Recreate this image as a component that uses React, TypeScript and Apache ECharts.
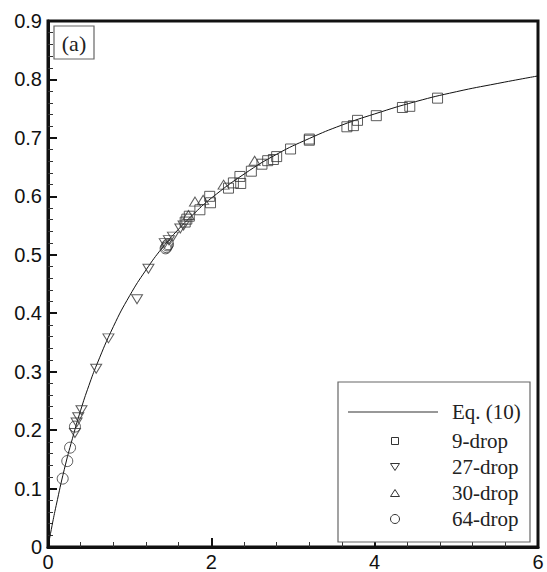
import React, { useEffect, useRef } from "react";
import * as echarts from "echarts";

// Eq. (10) curve
const curveX = [0, 0.05, 0.1, 0.2, 0.3, 0.4, 0.5, 0.6, 0.8, 1.0, 1.2, 1.4, 1.6, 1.8, 2.0, 2.4, 2.8, 3.2, 3.6, 4.0, 4.5, 5.0, 5.5, 6.0];
const curveY = [0, 0.037, 0.071, 0.133, 0.186, 0.234, 0.276, 0.313, 0.377, 0.43, 0.474, 0.512, 0.544, 0.572, 0.597, 0.638, 0.672, 0.699, 0.722, 0.741, 0.762, 0.779, 0.793, 0.806];

const drop9: [number, number][] = [
  [1.68, 0.556], [1.7, 0.561], [1.73, 0.566], [1.86, 0.577], [1.98, 0.6], [1.99, 0.589],
  [2.21, 0.614], [2.27, 0.623], [2.35, 0.634], [2.36, 0.622], [2.49, 0.643], [2.62, 0.655],
  [2.69, 0.661], [2.76, 0.663], [2.8, 0.668], [2.97, 0.681], [3.2, 0.696], [3.2, 0.698],
  [3.66, 0.719], [3.74, 0.721], [3.79, 0.73], [4.02, 0.738], [4.34, 0.752], [4.43, 0.754], [4.77, 0.768],
];
const drop27: [number, number][] = [
  [0.33, 0.195], [0.35, 0.213], [0.37, 0.222], [0.41, 0.234], [0.59, 0.305], [0.74, 0.357],
  [1.09, 0.424], [1.23, 0.476], [1.43, 0.52], [1.48, 0.525], [1.53, 0.531], [1.62, 0.545], [1.66, 0.55],
];
const drop30: [number, number][] = [
  [1.72, 0.568], [1.8, 0.591], [1.9, 0.594], [2.15, 0.62], [2.53, 0.661],
];
const drop64: [number, number][] = [
  [0.18, 0.117], [0.236, 0.147], [0.27, 0.17], [0.33, 0.206], [1.44, 0.511], [1.45, 0.513], [1.46, 0.516], [1.47, 0.518],
];

const legendNames = ["Eq. (10)", "9-drop", "27-drop", "30-drop", "64-drop"];
const panelLabel = "(a)";

export default function App() {
  const ref = useRef<HTMLDivElement>(null);
  useEffect(() => {
    if (!ref.current) return;
    const chart = echarts.init(ref.current, null, { renderer: "svg" });
    const mk = "#333";
    const markerStyle = { color: "rgba(0,0,0,0)", borderColor: mk, borderWidth: 1 };
    const serif = "Liberation Serif";
    const rowsY = [412, 441, 467, 493, 519];
    const symX = 395;
    const textX = 452;
    const axisCommon = {
      axisLine: { show: true, onZero: false, lineStyle: { color: "#111", width: 3 } },
      axisTick: { show: true, inside: true, length: 9, lineStyle: { color: "#111", width: 2 } },
      minorTick: { show: true, splitNumber: 5, length: 5, lineStyle: { color: "#333", width: 1 } },
      splitLine: { show: false },
      minorSplitLine: { show: false },
    };
    chart.setOption({
      animation: false,
      backgroundColor: "#fff",
      grid: { left: 48, right: 9, top: 21, bottom: 24, show: true, borderColor: "#111", borderWidth: 3 },
      xAxis: {
        type: "value", min: 0, max: 6, interval: 2, ...axisCommon,
        axisLabel: { fontSize: 20, color: "#111", margin: 5, fontFamily: "Liberation Sans" },
      },
      yAxis: {
        type: "value", min: 0, max: 0.9, interval: 0.1, ...axisCommon,
        axisLabel: { fontSize: 20, color: "#111", margin: 6, fontFamily: "Liberation Sans" },
      },
      series: [
        {
          name: legendNames[0], type: "line", smooth: true, symbol: "none",
          data: curveX.map((x, i) => [x, curveY[i]]),
          lineStyle: { color: "#111", width: 1 }, z: 1,
        },
        { name: legendNames[1], type: "scatter", symbol: "rect", symbolSize: 10, data: drop9, itemStyle: markerStyle, z: 3 },
        { name: legendNames[2], type: "scatter", symbol: "triangle", symbolRotate: 180, symbolSize: [11, 9], data: drop27, itemStyle: markerStyle, z: 3 },
        { name: legendNames[3], type: "scatter", symbol: "triangle", symbolSize: [11, 9], data: drop30, itemStyle: markerStyle, z: 3 },
        { name: legendNames[4], type: "scatter", symbol: "circle", symbolSize: 11, data: drop64, itemStyle: markerStyle, z: 3 },
      ],
      graphic: [
        { type: "rect", shape: { x: 54, y: 26, width: 40, height: 33 }, style: { fill: "#fff", stroke: "#666", lineWidth: 1.2 }, z: 10 },
        { type: "text", x: 74, y: 43, style: { text: panelLabel, font: `22px "${serif}"`, fill: "#222", align: "center", verticalAlign: "middle" }, z: 11 },
        { type: "rect", shape: { x: 338, y: 382, width: 192, height: 160 }, style: { fill: "#fff", stroke: "#666", lineWidth: 1.2 }, z: 10 },
        { type: "line", shape: { x1: 348, y1: rowsY[0], x2: 438, y2: rowsY[0] }, style: { stroke: "#333", lineWidth: 1.2 }, z: 11 },
        { type: "rect", shape: { x: symX - 3.5, y: rowsY[1] - 3.5, width: 7, height: 7 }, style: { fill: "none", stroke: "#333", lineWidth: 1 }, z: 11 },
        { type: "polygon", shape: { points: [[symX - 4.5, rowsY[2] - 3.5], [symX + 4.5, rowsY[2] - 3.5], [symX, rowsY[2] + 3.5]] }, style: { fill: "none", stroke: "#333", lineWidth: 1 }, z: 11 },
        { type: "polygon", shape: { points: [[symX - 4.5, rowsY[3] + 3.5], [symX + 4.5, rowsY[3] + 3.5], [symX, rowsY[3] - 3.5]] }, style: { fill: "none", stroke: "#333", lineWidth: 1 }, z: 11 },
        { type: "circle", shape: { cx: symX, cy: rowsY[4], r: 4.5 }, style: { fill: "none", stroke: "#333", lineWidth: 1 }, z: 11 },
        ...legendNames.map((n, i) => ({
          type: "text", x: textX, y: rowsY[i],
          style: { text: n, font: `21px "${serif}"`, fill: "#222", align: "left", verticalAlign: "middle" }, z: 11,
        })),
      ],
    });
    return () => chart.dispose();
  }, []);
  return <div ref={ref} style={{ position: "fixed", left: 0, top: 0, width: 547, height: 572 }} />;
}
